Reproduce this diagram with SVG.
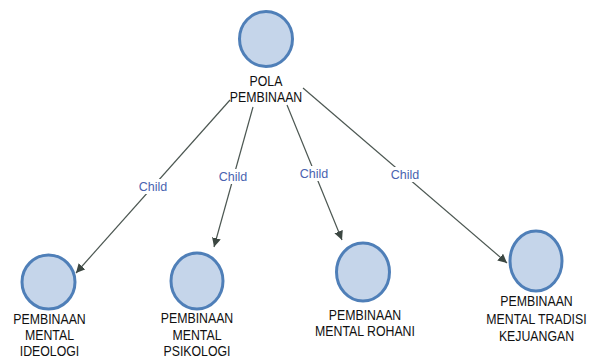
<svg xmlns="http://www.w3.org/2000/svg" width="591" height="360" viewBox="0 0 591 360">
<defs>
<style>
.n{fill:#c5d5ea;stroke:#4f7fb8;stroke-width:3}
.t{font-family:"Liberation Sans",Arial,sans-serif;font-size:14.5px;fill:#111;text-anchor:middle}
.e{stroke:#4c5752;stroke-width:1.2;fill:none;marker-end:url(#a)}
.l{font-family:"Liberation Sans",Arial,sans-serif;font-size:12.5px;fill:#4a63b0;text-anchor:middle}
.lb{fill:#fff}
</style>
<marker id="a" viewBox="0 0 10 10" refX="10" refY="5" markerWidth="9" markerHeight="9" markerUnits="userSpaceOnUse" orient="auto">
<path d="M0,0 L10,5 L0,10 z" fill="#3c4742"/>
</marker>
</defs>
<rect width="591" height="360" fill="#fff"/>
<g id="connectors">
<line class="e" x1="230" y1="100" x2="76" y2="273"/>
<line class="e" x1="253" y1="107" x2="214" y2="247"/>
<line class="e" x1="287" y1="105" x2="342" y2="240"/>
<line class="e" x1="303" y1="88" x2="507" y2="263"/>
<rect class="lb" x="138" y="179" width="30" height="15"/>
<text class="l" x="153" y="191">Child</text>
<rect class="lb" x="218" y="169" width="30" height="15"/>
<text class="l" x="233" y="181">Child</text>
<rect class="lb" x="299" y="166" width="30" height="15"/>
<text class="l" x="314" y="178">Child</text>
<rect class="lb" x="390" y="167" width="30" height="15"/>
<text class="l" x="405" y="179">Child</text>
</g>
<g id="root">
<ellipse class="n" cx="266" cy="39" rx="26.5" ry="27.5"/>
<g transform="translate(266 0) scale(0.85 1)">
<text class="t" x="0" y="86.5">POLA</text>
<text class="t" x="0" y="102">PEMBINAAN</text>
</g>
</g>
<g id="ideologi">
<ellipse class="n" cx="48.5" cy="282" rx="26.5" ry="27"/>
<g transform="translate(49.5 0) scale(0.85 1)">
<text class="t" x="0" y="324">PEMBINAAN</text>
<text class="t" x="0" y="340.5">MENTAL</text>
<text class="t" x="0" y="356.5">IDEOLOGI</text>
</g>
</g>
<g id="psikologi">
<ellipse class="n" cx="197" cy="281" rx="26" ry="28"/>
<g transform="translate(197 0) scale(0.85 1)">
<text class="t" x="0" y="323.5">PEMBINAAN</text>
<text class="t" x="0" y="340">MENTAL</text>
<text class="t" x="0" y="356.5">PSIKOLOGI</text>
</g>
</g>
<g id="rohani">
<ellipse class="n" cx="363" cy="272" rx="26.5" ry="29"/>
<g transform="translate(365 0) scale(0.85 1)">
<text class="t" x="0" y="320">PEMBINAAN</text>
<text class="t" x="0" y="336">MENTAL ROHANI</text>
</g>
</g>
<g id="tradisi">
<ellipse class="n" cx="536" cy="261" rx="26" ry="30"/>
<g transform="translate(536.5 0) scale(0.85 1)">
<text class="t" x="0" y="306.5">PEMBINAAN</text>
<text class="t" x="0" y="324.5">MENTAL TRADISI</text>
<text class="t" x="0" y="341.5">KEJUANGAN</text>
</g>
</g>
</svg>
